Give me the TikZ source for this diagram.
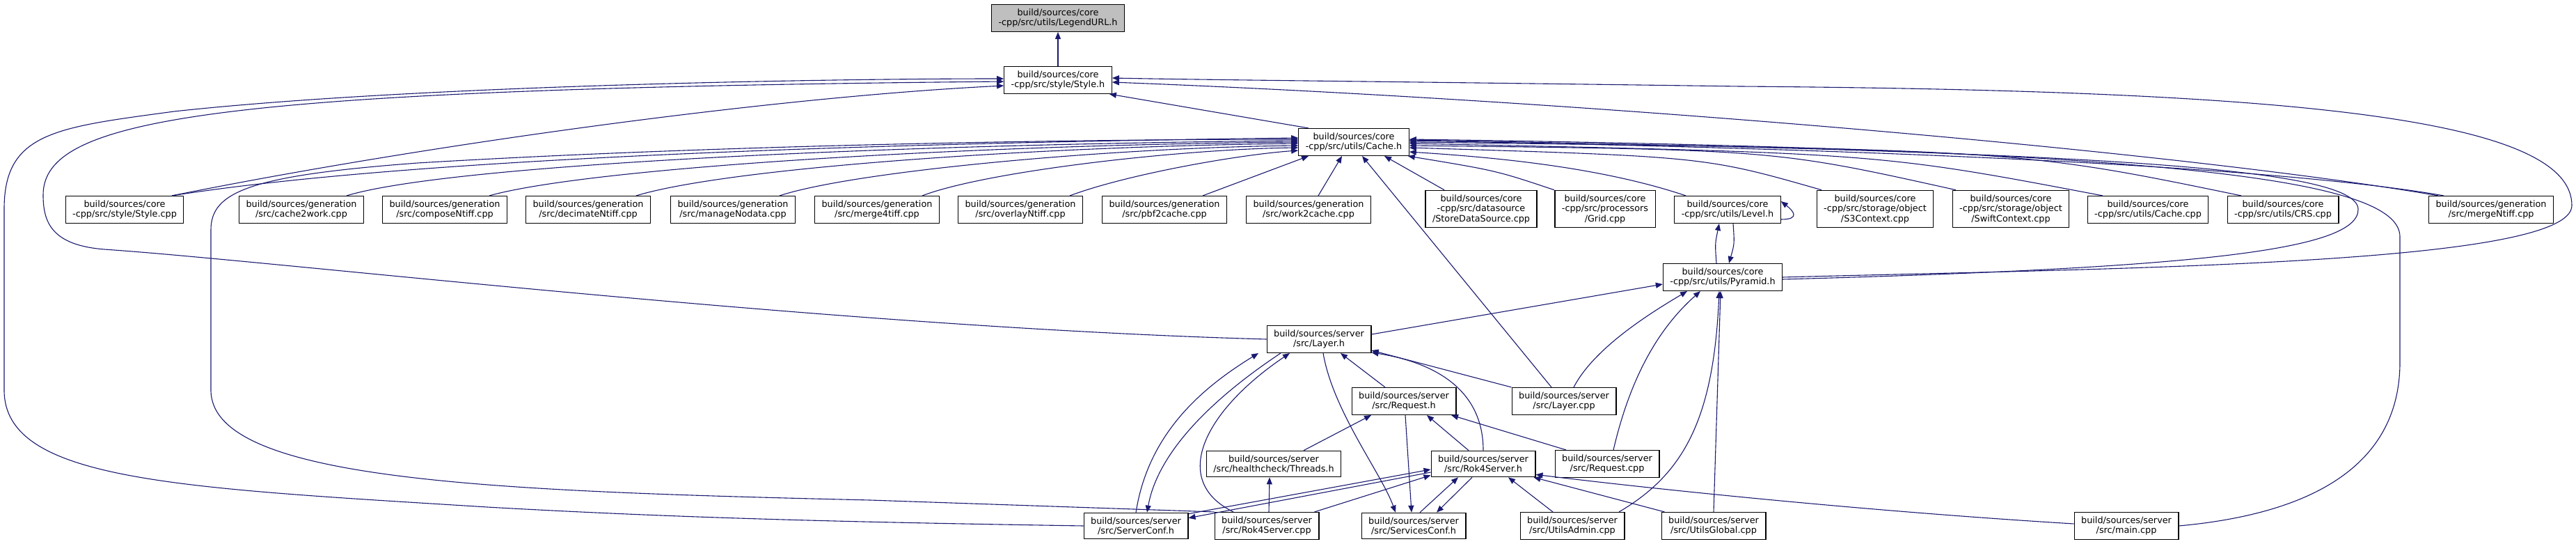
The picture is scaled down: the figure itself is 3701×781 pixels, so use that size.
\documentclass[tikz,border=0pt]{standalone}
\usepackage{fontspec}
\usepackage{xcolor}
\usepackage{tikz}
\usetikzlibrary{arrows.meta}
\setmainfont{DejaVu Sans}
\definecolor{edgeblue}{RGB}{25,25,112}
\definecolor{legendgray}{RGB}{191,191,191}
\newcommand{\depfont}{\fontsize{12.8pt}{14.5pt}\selectfont}

\tikzset{
  file/.style={draw=black, line width=1.2pt, fill=white, align=center,
    inner xsep=10pt, inner ysep=6pt, font=\depfont},
  dep/.style={draw=edgeblue, line width=1.1pt, -{Triangle[length=10pt,width=8pt]}}
}

\begin{document}
\begin{tikzpicture}[x=1pt, y=-1pt]
    \useasboundingbox (0,0) rectangle (3701,781);

    % top of the graph
    \node[file, fill=legendgray] (legendurl) at (1520,26) {build/sources/core\\-cpp/src/utils/LegendURL.h};
    \node[file] (styleh) at (1520,115) {build/sources/core\\-cpp/src/style/Style.h};
    \node[file] (cacheh) at (1945,204) {build/sources/core\\-cpp/src/utils/Cache.h};

    % row of files that use Cache.h
    \node[file] (stylecpp) at (179,301) {build/sources/core\\-cpp/src/style/Style.cpp};
    \node[file] (cache2work) at (433,301) {build/sources/generation\\/src/cache2work.cpp};
    \node[file] (composentiff) at (639,301) {build/sources/generation\\/src/composeNtiff.cpp};
    \node[file] (decimatentiff) at (845,301) {build/sources/generation\\/src/decimateNtiff.cpp};
    \node[file] (managenodata) at (1053,301) {build/sources/generation\\/src/manageNodata.cpp};
    \node[file] (merge4tiff) at (1260,301) {build/sources/generation\\/src/merge4tiff.cpp};
    \node[file] (overlayntiff) at (1466,301) {build/sources/generation\\/src/overlayNtiff.cpp};
    \node[file] (pbf2cache) at (1673,301) {build/sources/generation\\/src/pbf2cache.cpp};
    \node[file] (work2cache) at (1880,301) {build/sources/generation\\/src/work2cache.cpp};
    \node[file] (storeds) at (2128,300) {build/sources/core\\-cpp/src/datasource\\/StoreDataSource.cpp};
    \node[file] (gridcpp) at (2306,300) {build/sources/core\\-cpp/src/processors\\/Grid.cpp};
    \node[file] (levelh) at (2482,301) {build/sources/core\\-cpp/src/utils/Level.h};
    \node[file] (s3ctx) at (2694,300) {build/sources/core\\-cpp/src/storage/object\\/S3Context.cpp};
    \node[file] (swiftctx) at (2889,300) {build/sources/core\\-cpp/src/storage/object\\/SwiftContext.cpp};
    \node[file] (cachecpp) at (3086,301) {build/sources/core\\-cpp/src/utils/Cache.cpp};
    \node[file] (crscpp) at (3280,301) {build/sources/core\\-cpp/src/utils/CRS.cpp};
    \node[file] (mergentiff) at (3579,301) {build/sources/generation\\/src/mergeNtiff.cpp};

    % server part
    \node[file] (pyramidh) at (2475,398) {build/sources/core\\-cpp/src/utils/Pyramid.h};
    \node[file] (layerh) at (1895,487) {build/sources/server\\/src/Layer.h};
    \node[file] (requesth) at (2017,576) {build/sources/server\\/src/Request.h};
    \node[file] (layercpp) at (2247,576) {build/sources/server\\/src/Layer.cpp};
    \node[file] (threadsh) at (1830,666) {build/sources/server\\/src/healthcheck/Threads.h};
    \node[file] (rok4serverh) at (2131,666) {build/sources/server\\/src/Rok4Server.h};
    \node[file] (requestcpp) at (2309,666) {build/sources/server\\/src/Request.cpp};
    \node[file] (serverconfh) at (1632,755) {build/sources/server\\/src/ServerConf.h};
    \node[file] (rok4servercpp) at (1820,755) {build/sources/server\\/src/Rok4Server.cpp};
    \node[file] (servicesconfh) at (2031,755) {build/sources/server\\/src/ServicesConf.h};
    \node[file] (utilsadmin) at (2259,755) {build/sources/server\\/src/UtilsAdmin.cpp};
    \node[file] (utilsglobal) at (2462,755) {build/sources/server\\/src/UtilsGlobal.cpp};
    \node[file] (maincpp) at (3055,755) {build/sources/server\\/src/main.cpp};

    % edges into Style.h
    \draw[dep] (styleh) -- (legendurl);
    \draw[dep] ([xshift=-65pt]cacheh.north) -- ([xshift=-4pt]styleh.south east);
    \draw[dep] ([xshift=68pt]stylecpp.north) .. controls (600,210) and (1100,140) .. ([yshift=-8pt]styleh.west);
    \draw[dep] (serverconfh.west) .. controls (1250,750) and (1000,745) .. (700,728)
        .. controls (250,700) and (6,690) .. (6,560) -- (6,300)
        .. controls (6,190) and (80,183) .. (250,160)
        .. controls (600,122) and (1200,113) .. ([yshift=2pt]styleh.west);
    \draw[dep] (layerh.west) .. controls (1200,470) and (400,375) .. (150,358)
        .. controls (75,352) and (62,320) .. (62,280)
        .. controls (62,170) and (300,128) .. ([yshift=-2pt]styleh.west);
    \draw[dep] (pyramidh.east) .. controls (3050,385) and (3695,380) .. (3695,295)
        .. controls (3695,170) and (3300,130) .. (2500,124)
        .. controls (2000,117) and (1750,115) .. ([yshift=3pt]styleh.east);
    \draw[dep] ([xshift=-76pt]mergentiff.north) .. controls (3150,220) and (2300,145) .. ([yshift=-3pt]styleh.east);

    % edges into Cache.h, left side
    \draw[dep] ([xshift=68pt]stylecpp.north) .. controls (600,225) and (1300,205) .. ([yshift=6pt]cacheh.west);
    \draw[dep] (rok4servercpp.north west) -- (1250,718) .. controls (700,705) and (303,690) .. (303,560) -- (303,330)
        .. controls (303,275) and (360,252) .. (600,234)
        .. controls (1000,210) and (1500,200) .. ([yshift=4pt]cacheh.west);
    \draw[dep] ([xshift=65pt]cache2work.north) .. controls (650,235) and (1300,207) .. ([yshift=2pt]cacheh.west);
    \draw[dep] ([xshift=64pt]composentiff.north) .. controls (850,240) and (1400,208) .. ([yshift=0pt]cacheh.west);
    \draw[dep] ([xshift=69pt]decimatentiff.north) .. controls (1050,240) and (1500,210) .. ([yshift=-2pt]cacheh.west);
    \draw[dep] ([xshift=67pt]managenodata.north) .. controls (1230,245) and (1600,212) .. ([yshift=-5pt]cacheh.west);
    \draw[dep] ([xshift=65pt]merge4tiff.north) .. controls (1420,245) and (1700,214) .. ([yshift=-8pt]cacheh.west);
    \draw[dep] ([xshift=71pt]overlayntiff.north) .. controls (1620,250) and (1780,222) .. ([yshift=-12pt]cacheh.west);
    \draw[dep] ([xshift=55pt]pbf2cache.north) -- ([xshift=-65pt]cacheh.south);
    \draw[dep] ([xshift=14pt]work2cache.north) -- ([xshift=-17pt]cacheh.south);
    \draw[dep] ([xshift=-18pt]layercpp.north) -- ([xshift=12pt]cacheh.south);
    \draw[dep] ([xshift=-53pt]storeds.north) -- ([xshift=44pt]cacheh.south);

    % edges into Cache.h, right side
    \draw[dep] ([xshift=-73pt]gridcpp.north) .. controls (2150,245) .. ([xshift=-2pt]cacheh.south east);
    \draw[dep] ([xshift=-60pt]levelh.north) .. controls (2300,240) and (2150,226) .. ([yshift=6pt]cacheh.south east);
    \draw[dep] ([xshift=-77pt]s3ctx.north) .. controls (2450,225) .. ([yshift=-8pt]cacheh.east);
    \draw[dep] ([xshift=-79pt]swiftctx.north) .. controls (2550,215) .. ([yshift=-5pt]cacheh.east);
    \draw[dep] ([xshift=-65pt]cachecpp.north) .. controls (2700,220) .. ([yshift=-2pt]cacheh.east);
    \draw[dep] ([xshift=-60pt]crscpp.north) .. controls (2900,215) .. (cacheh.east);
    \draw[dep] ([xshift=-68pt]mergentiff.north) .. controls (3250,235) and (2600,212) .. ([yshift=2pt]cacheh.east);
    \draw[dep] ([yshift=-3pt]pyramidh.east) .. controls (3150,385) and (3390,360) .. (3388,300)
        .. controls (3385,240) and (3000,218) .. ([yshift=3pt]cacheh.east);
    \draw[dep] (maincpp.east) .. controls (3350,735) and (3448,650) .. (3448,520) -- (3448,340)
        .. controls (3448,255) and (3100,215) .. ([yshift=4pt]cacheh.east);

    % Level.h and Pyramid.h
    \draw[dep] ([yshift=-14pt]levelh.east) .. controls +(28,0) and +(18,14) .. ([yshift=12pt]levelh.east);
    \draw[dep] ([xshift=-9pt]pyramidh.north) .. controls (2464,350) .. ([xshift=-12pt]levelh.south);
    \draw[dep] ([xshift=8pt]levelh.south) .. controls (2492,350) .. ([xshift=9pt]pyramidh.north);
    \draw[dep] ([xshift=14pt]layercpp.north) .. controls (2290,500) and (2370,450) .. ([xshift=-51pt]pyramidh.south);
    \draw[dep] ([xshift=9pt]requestcpp.north) .. controls (2345,530) and (2390,465) .. ([xshift=-32pt]pyramidh.south);
    \draw[dep] ([xshift=67pt]utilsadmin.north) .. controls (2420,680) and (2462,600) .. ([xshift=-5pt]pyramidh.south);
    \draw[dep] (utilsglobal.north) -- ([xshift=-3pt]pyramidh.south);
    \draw[dep] ([yshift=7pt]layerh.east) -- ([yshift=-10pt]pyramidh.west);

    % Layer.h
    \draw[dep] ([xshift=-27pt]requesth.north) -- ([xshift=31pt]layerh.south);
    \draw[dep] (layercpp.north west) -- ([yshift=4pt]layerh.south east);
    \draw[dep] (rok4serverh.north) .. controls (2131,565) and (2070,522) .. ([yshift=1pt]layerh.south east);
    \draw[dep] (serverconfh.north) .. controls (1650,620) and (1730,555) .. ([xshift=-87pt]layerh.south);
    \draw[dep] ([xshift=-55pt]layerh.south) .. controls (1760,560) and (1665,640) .. ([xshift=16pt]serverconfh.north);
    \draw[dep] ([xshift=-48pt]rok4servercpp.north) .. controls (1680,690) and (1730,590) .. ([xshift=-42pt]layerh.south);
    \draw[dep] ([xshift=6pt]layerh.south) .. controls (1915,590) and (1985,680) .. ([xshift=-26pt]servicesconfh.north);

    % Request.h
    \draw[dep] ([xshift=2pt]requesth.south) -- ([xshift=-3pt]servicesconfh.north);
    \draw[dep] ([xshift=43pt]threadsh.north) -- ([xshift=-47pt]requesth.south);
    \draw[dep] ([xshift=-21pt]rok4serverh.north) -- ([xshift=33pt]requesth.south);
    \draw[dep] ([xshift=-59pt]requestcpp.north) -- ([xshift=68pt]requesth.south);

    % Rok4Server.h
    \draw[dep] ([xshift=3pt]rok4servercpp.north) -- ([xshift=-6pt]threadsh.south);
    \draw[dep] ([xshift=-7pt]rok4servercpp.north east) -- ([yshift=3pt]rok4serverh.south west);
    \draw[dep] ([yshift=-2pt]serverconfh.north east) -- ([yshift=-8pt]rok4serverh.west);
    \draw[dep] ([yshift=-12pt]rok4serverh.west) -- ([yshift=-8pt]serverconfh.north east);
    \draw[dep] ([xshift=9pt]servicesconfh.north) -- ([xshift=-36pt]rok4serverh.south);
    \draw[dep] ([xshift=-16pt]rok4serverh.south) -- ([xshift=33pt]servicesconfh.north);
    \draw[dep] ([xshift=-28pt]utilsadmin.north) -- ([xshift=36pt]rok4serverh.south);
    \draw[dep] ([xshift=5pt]utilsglobal.north west) -- ([xshift=-3pt]rok4serverh.south east);
    \draw[dep] ([yshift=3pt]maincpp.west) .. controls (2700,735) and (2400,705) .. ([yshift=4pt]rok4serverh.south east);
\end{tikzpicture}
\end{document}
